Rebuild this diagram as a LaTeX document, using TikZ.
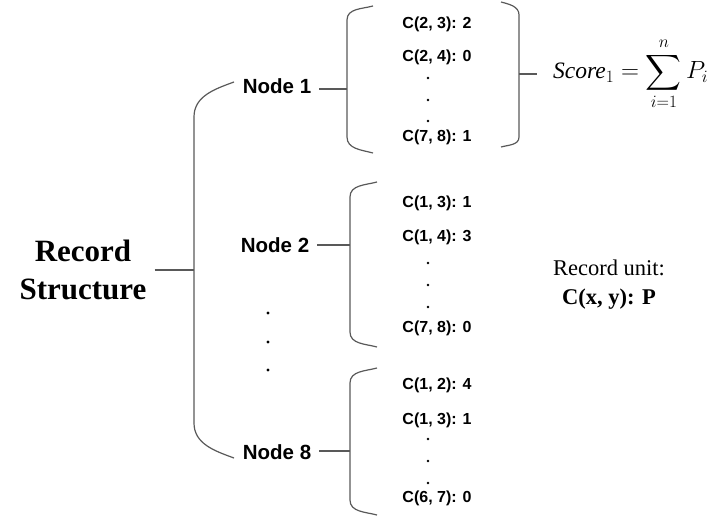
\documentclass[tikz,border=0pt]{standalone}
\usepackage{amsmath}
\usepackage{fontspec}
\setmainfont{Liberation Serif}
\newfontfamily\labelfont{Liberation Sans}
\usetikzlibrary{calc}

\tikzset{
  bracket/.style={draw=black!65, line width=1.2pt},
  link/.style={draw=black!65, line width=1.2pt, shorten <=8pt},
  title/.style={align=center, inner sep=0pt,
    font=\fontsize{31}{38}\selectfont\bfseries},
  nodelabel/.style={inner sep=0pt, font=\labelfont\fontsize{20.5}{24}\selectfont\bfseries},
  cellentry/.style={inner sep=0pt, font=\labelfont\fontsize{16}{19}\selectfont\bfseries},
  dotmark/.style={circle, fill=black, inner sep=0pt, minimum size=3.2pt},
  unitnote/.style={align=center, inner sep=0pt, font=\fontsize{22.5}{29}\selectfont}
}

\begin{document}
\begin{tikzpicture}[x=1pt, y=-1pt]
  \useasboundingbox (0,0) rectangle (712,521);

  % root and the big bracket
  \node[title] (rec) at (83,270) {Record\\Structure};
  \coordinate (bigjoin) at (194,270);
  \draw[link] (rec.east) -- (bigjoin);
  \draw[bracket] (234,82) to[out=200,in=90] (194,117) -- (194,423)
    to[out=-90,in=160] (234,458);

  % nodes
  \node[nodelabel] (n1) at (277,86) {Node 1};
  \node[nodelabel] (n2) at (275,245) {Node 2};
  \node[nodelabel] (n8) at (277,452) {Node 8};
  \node[dotmark] (nd1) at (268,313) {};
  \node[dotmark] (nd2) at (268,342) {};
  \node[dotmark] (nd3) at (268,370) {};

  \coordinate (j1) at (347,89);
  \coordinate (j2) at (350,245);
  \coordinate (j8) at (350,451);
  \draw[link] (n1.east |- j1) -- (j1);
  \draw[link] (n2.east |- j2) -- (j2);
  \draw[link] (n8.east |- j8) -- (j8);

  % bracket of node 1
  \draw[bracket] (373,6) to[out=195,in=90] (347,20) -- (347,137)
    to[out=-90,in=165] (373,153);
  \draw[bracket] (501,2) to[out=-15,in=90] (519,15) -- (519,137)
    to[out=-90,in=15] (501,147);
  \foreach \yy/\txt [count=\k] in {24/{C(2, 3): 2}, 57/{C(2, 4): 0}, 137/{C(7, 8): 1}}
    \node[cellentry] (a\k) at (437,\yy) {\txt};
  \foreach \yy [count=\k] in {78,100,121}
    \node[dotmark, minimum size=2.6pt] (ad\k) at (428,\yy) {};

  % bracket of node 2
  \draw[bracket] (377,182) to[out=195,in=90] (350,197) -- (350,332)
    to[out=-90,in=165] (377,347);
  \foreach \yy/\txt [count=\k] in {203/{C(1, 3): 1}, 237/{C(1, 4): 3}, 328/{C(7, 8): 0}}
    \node[cellentry] (b\k) at (437,\yy) {\txt};
  \foreach \yy [count=\k] in {263,285,307}
    \node[dotmark, minimum size=2.6pt] (bd\k) at (428,\yy) {};

  % bracket of node 8
  \draw[bracket] (377,368) to[out=195,in=90] (350,383) -- (350,500)
    to[out=-90,in=165] (377,515);
  \foreach \yy/\txt [count=\k] in {385/{C(1, 2): 4}, 420/{C(1, 3): 1}, 498/{C(6, 7): 0}}
    \node[cellentry] (c\k) at (437,\yy) {\txt};
  \foreach \yy [count=\k] in {439,461,483}
    \node[dotmark, minimum size=2.6pt] (cd\k) at (428,\yy) {};

  % score of node 1
  \coordinate (r1) at (519,74);
  \node[anchor=west, inner sep=0pt, font=\fontsize{23.5}{28}\selectfont] (score) at (553,74)
    {$\textit{Score}_1 = \displaystyle\sum_{i=1}^{n} P_i$};
  \draw[bracket, shorten >=16pt] (r1) -- (score.west |- r1);

  % record unit
  \node[unitnote] (unit) at (609,285) {Record unit:\\\textbf{C(x, y): P}};
\end{tikzpicture}
\end{document}
